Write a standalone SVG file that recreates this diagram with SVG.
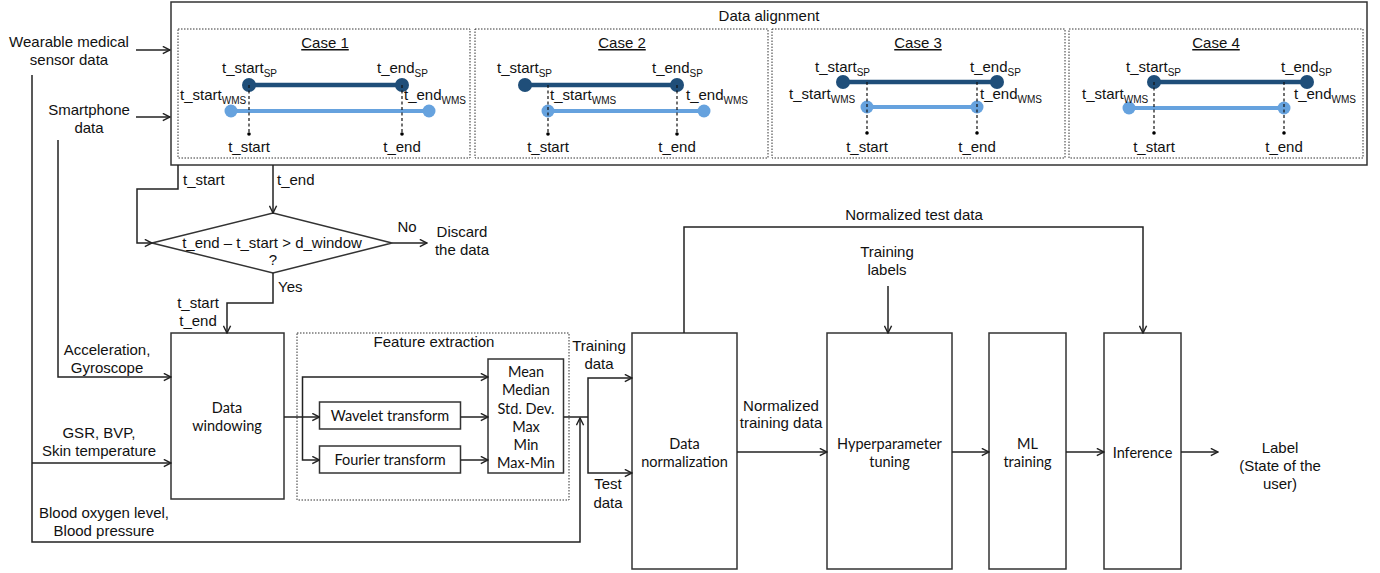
<svg xmlns="http://www.w3.org/2000/svg" width="1380" height="573" viewBox="0 0 1380 573">
  <defs>
    <marker id="arrow" viewBox="0 0 10 10" refX="9" refY="5" markerWidth="9" markerHeight="9" markerUnits="userSpaceOnUse" orient="auto">
      <path d="M1,1 L9,5 L1,9" fill="none" stroke="#222" stroke-width="1.6"/>
    </marker>
    <style>
      text { font-family: "Liberation Sans", Arial, sans-serif; font-size: 15px; fill: #111; }
      .c { text-anchor: middle; }
      .cal { font-family: Lato, "Open Sans", sans-serif; font-size: 14.5px; text-anchor: middle; }
      .sub { font-size: 10px; }
      .box { fill: #fff; stroke: #333; stroke-width: 1.5; }
      .dotted { fill: none; stroke: #333; stroke-width: 1; stroke-dasharray: 1.5 1.5; }
      .wire { fill: none; stroke: #222; stroke-width: 1.5; }
      .arr { marker-end: url(#arrow); }
      .sp { stroke: #1F4E79; stroke-width: 4.5; }
      .wms { stroke: #66A2DE; stroke-width: 4; }
      .spdot { fill: #1F4E79; }
      .wmsdot { fill: #66A2DE; }
      .guide { stroke: #111; stroke-width: 1.2; stroke-dasharray: 3 2.5; }
    </style>
  </defs>

  <!-- Data alignment block with its four cases -->
  <g id="data-alignment">
    <rect class="box" x="171" y="2" width="1196" height="163"/>
    <text class="c" x="769" y="21">Data alignment</text>
  </g>

  <g id="case-1">
    <rect class="dotted" x="178" y="29" width="292" height="129"/>
    <text class="c" x="325" y="48" text-decoration="underline">Case 1</text>
    <line class="sp" x1="249" y1="85" x2="402" y2="85"/>
    <line class="wms" x1="231" y1="111" x2="429" y2="111"/>
    <circle class="spdot" cx="249" cy="85" r="7"/>
    <circle class="spdot" cx="402" cy="85" r="7"/>
    <circle class="wmsdot" cx="231" cy="111" r="6.5"/>
    <circle class="wmsdot" cx="429" cy="111" r="6.5"/>
    <line class="guide" x1="249" y1="85" x2="249" y2="134"/>
    <line class="guide" x1="402" y1="85" x2="402" y2="134"/>
    <circle cx="249" cy="134" r="1.8"/>
    <circle cx="402" cy="134" r="1.8"/>
    <text x="222" y="73">t_start<tspan class="sub" dy="4">SP</tspan></text>
    <text x="377" y="73">t_end<tspan class="sub" dy="4">SP</tspan></text>
    <text x="180" y="100">t_start<tspan class="sub" dy="4">WMS</tspan></text>
    <text x="404" y="100">t_end<tspan class="sub" dy="4">WMS</tspan></text>
    <text class="c" x="249" y="152">t_start</text>
    <text class="c" x="402" y="152">t_end</text>
  </g>

  <g id="case-2">
    <rect class="dotted" x="475" y="29" width="293" height="129"/>
    <text class="c" x="622" y="48" text-decoration="underline">Case 2</text>
    <line class="sp" x1="525" y1="85" x2="677" y2="85"/>
    <line class="wms" x1="548" y1="111" x2="704" y2="111"/>
    <circle class="spdot" cx="525" cy="85" r="7"/>
    <circle class="spdot" cx="677" cy="85" r="7"/>
    <circle class="wmsdot" cx="548" cy="111" r="6.5"/>
    <circle class="wmsdot" cx="704" cy="111" r="6.5"/>
    <line class="guide" x1="548" y1="85" x2="548" y2="134"/>
    <line class="guide" x1="677" y1="85" x2="677" y2="134"/>
    <circle cx="548" cy="134" r="1.8"/>
    <circle cx="677" cy="134" r="1.8"/>
    <text x="497" y="73">t_start<tspan class="sub" dy="4">SP</tspan></text>
    <text x="652" y="73">t_end<tspan class="sub" dy="4">SP</tspan></text>
    <text x="550" y="100">t_start<tspan class="sub" dy="4">WMS</tspan></text>
    <text x="686" y="100">t_end<tspan class="sub" dy="4">WMS</tspan></text>
    <text class="c" x="548" y="152">t_start</text>
    <text class="c" x="677" y="152">t_end</text>
  </g>

  <g id="case-3">
    <rect class="dotted" x="772" y="29" width="293" height="129"/>
    <text class="c" x="918" y="48" text-decoration="underline">Case 3</text>
    <line class="sp" x1="843" y1="82" x2="997" y2="82"/>
    <line class="wms" x1="867" y1="107" x2="977" y2="107"/>
    <circle class="spdot" cx="843" cy="82" r="7"/>
    <circle class="spdot" cx="997" cy="82" r="7"/>
    <circle class="wmsdot" cx="867" cy="107" r="6.5"/>
    <circle class="wmsdot" cx="977" cy="107" r="6.5"/>
    <line class="guide" x1="867" y1="82" x2="867" y2="133"/>
    <line class="guide" x1="977" y1="82" x2="977" y2="133"/>
    <circle cx="867" cy="133" r="1.8"/>
    <circle cx="977" cy="133" r="1.8"/>
    <text x="815" y="72">t_start<tspan class="sub" dy="4">SP</tspan></text>
    <text x="970" y="72">t_end<tspan class="sub" dy="4">SP</tspan></text>
    <text x="789" y="99">t_start<tspan class="sub" dy="4">WMS</tspan></text>
    <text x="980" y="99">t_end<tspan class="sub" dy="4">WMS</tspan></text>
    <text class="c" x="867" y="152">t_start</text>
    <text class="c" x="977" y="152">t_end</text>
  </g>

  <g id="case-4">
    <rect class="dotted" x="1069" y="29" width="294" height="129"/>
    <text class="c" x="1216" y="48" text-decoration="underline">Case 4</text>
    <line class="sp" x1="1154" y1="82" x2="1307" y2="82"/>
    <line class="wms" x1="1129" y1="108" x2="1284" y2="108"/>
    <circle class="spdot" cx="1154" cy="82" r="7"/>
    <circle class="spdot" cx="1307" cy="82" r="7"/>
    <circle class="wmsdot" cx="1129" cy="108" r="6.5"/>
    <circle class="wmsdot" cx="1284" cy="108" r="6.5"/>
    <line class="guide" x1="1154" y1="82" x2="1154" y2="133"/>
    <line class="guide" x1="1284" y1="82" x2="1284" y2="133"/>
    <circle cx="1154" cy="133" r="1.8"/>
    <circle cx="1284" cy="133" r="1.8"/>
    <text x="1126" y="72">t_start<tspan class="sub" dy="4">SP</tspan></text>
    <text x="1281" y="72">t_end<tspan class="sub" dy="4">SP</tspan></text>
    <text x="1082" y="99">t_start<tspan class="sub" dy="4">WMS</tspan></text>
    <text x="1294" y="99">t_end<tspan class="sub" dy="4">WMS</tspan></text>
    <text class="c" x="1154" y="152">t_start</text>
    <text class="c" x="1284" y="152">t_end</text>
  </g>

  <!-- Input sources -->
  <g id="input-wearable">
    <text class="c" x="69" y="47">Wearable medical</text>
    <text class="c" x="69" y="65">sensor data</text>
  </g>
  <g id="input-smartphone">
    <text class="c" x="89" y="115">Smartphone</text>
    <text class="c" x="89" y="133">data</text>
  </g>

  <!-- Window length check -->
  <g id="decision">
    <polygon class="box" points="152,243 273,213 392,243 273,273"/>
    <text class="c" x="272" y="248">t_end – t_start &gt; d_window</text>
    <text class="c" x="273" y="265">?</text>
  </g>
  <g id="discard">
    <text class="c" x="462" y="237">Discard</text>
    <text class="c" x="462" y="255">the data</text>
  </g>

  <g id="data-windowing">
    <rect class="box" x="171" y="333" width="113" height="166"/>
    <text class="cal" x="227" y="413">Data</text>
    <text class="cal" x="227" y="431">windowing</text>
  </g>

  <g id="feature-extraction">
    <rect class="dotted" x="297" y="333" width="272" height="167"/>
    <text class="c" x="434" y="347">Feature extraction</text>
  </g>
  <g id="wavelet">
    <rect class="box" x="319.5" y="402" width="141" height="27"/>
    <text class="cal" x="390" y="420.5">Wavelet transform</text>
  </g>
  <g id="fourier">
    <rect class="box" x="319.5" y="446" width="141" height="27"/>
    <text class="cal" x="390" y="464.5">Fourier transform</text>
  </g>
  <g id="statistics">
    <rect class="box" x="488" y="359" width="75.5" height="114"/>
    <text class="cal" x="526" y="377">Mean</text>
    <text class="cal" x="526" y="395">Median</text>
    <text class="cal" x="526" y="413.5">Std. Dev.</text>
    <text class="cal" x="526" y="432">Max</text>
    <text class="cal" x="526" y="450">Min</text>
    <text class="cal" x="526" y="468">Max-Min</text>
  </g>

  <g id="data-normalization">
    <rect class="box" x="632" y="333" width="105" height="236"/>
    <text class="cal" x="684.5" y="449">Data</text>
    <text class="cal" x="684.5" y="467">normalization</text>
  </g>
  <g id="hyperparameter-tuning">
    <rect class="box" x="827" y="333" width="125" height="236"/>
    <text class="cal" x="889.5" y="449">Hyperparameter</text>
    <text class="cal" x="889.5" y="467">tuning</text>
  </g>
  <g id="ml-training">
    <rect class="box" x="989" y="333" width="77" height="236"/>
    <text class="cal" x="1027.5" y="449">ML</text>
    <text class="cal" x="1027.5" y="467">training</text>
  </g>
  <g id="inference">
    <rect class="box" x="1104" y="333" width="77" height="236"/>
    <text class="cal" x="1142.5" y="458">Inference</text>
  </g>
  <g id="training-labels">
    <text class="c" x="887" y="257">Training</text>
    <text class="c" x="887" y="275">labels</text>
  </g>
  <g id="output-label">
    <text class="c" x="1280" y="453">Label</text>
    <text class="c" x="1280" y="471">(State of the</text>
    <text class="c" x="1280" y="489">user)</text>
  </g>

  <!-- Connectors -->
  <g id="connectors">
    <path class="wire arr" d="M136,50 H170"/>
    <path class="wire arr" d="M136,117 H170"/>
    <path class="wire arr" d="M178,165 V189 H137 V243 H152"/>
    <path class="wire arr" d="M273,165 V213"/>
    <path class="wire arr" d="M392,243 H427"/>
    <path class="wire arr" d="M273,273 V303 H227 V333"/>
    <path class="wire arr" d="M58,140 V377 H171"/>
    <path class="wire arr" d="M32,463 H171"/>
    <path class="wire" d="M32,75 V463"/>
    <path class="wire arr" d="M32,463 V542 H580 V418"/>
    <path class="wire arr" d="M284,417 H319.5"/>
    <path class="wire arr" d="M302.5,417 V377 H488"/>
    <path class="wire arr" d="M302.5,417 V460 H319.5"/>
    <path class="wire arr" d="M460.5,417 H488"/>
    <path class="wire arr" d="M460.5,460 H488"/>
    <path class="wire" d="M563.5,417 H588"/>
    <path class="wire arr" d="M588,417 V378 H632"/>
    <path class="wire arr" d="M588,417 V473 H632"/>
    <path class="wire arr" d="M684,333 V227 H1143 V333"/>
    <path class="wire arr" d="M888,286 V333"/>
    <path class="wire arr" d="M737,452 H827"/>
    <path class="wire arr" d="M952,452 H989"/>
    <path class="wire arr" d="M1066,452 H1104"/>
    <path class="wire arr" d="M1181,452 H1218"/>

    <text x="183" y="185">t_start</text>
    <text x="277" y="185">t_end</text>
    <text class="c" x="407" y="232">No</text>
    <text x="278" y="292">Yes</text>
    <text class="c" x="198" y="308">t_start</text>
    <text class="c" x="198" y="326">t_end</text>
    <text class="c" x="107" y="355">Acceleration,</text>
    <text class="c" x="107" y="373">Gyroscope</text>
    <text class="c" x="99" y="438">GSR, BVP,</text>
    <text class="c" x="99" y="456">Skin temperature</text>
    <text class="c" x="104" y="518">Blood oxygen level,</text>
    <text class="c" x="104" y="536">Blood pressure</text>
    <text class="c" x="599" y="351">Training</text>
    <text class="c" x="599" y="369">data</text>
    <text class="c" x="608" y="489">Test</text>
    <text class="c" x="608" y="508">data</text>
    <text class="c" x="914" y="220">Normalized test data</text>
    <text class="c" x="781" y="411">Normalized</text>
    <text class="c" x="781" y="428">training data</text>
  </g>
</svg>
